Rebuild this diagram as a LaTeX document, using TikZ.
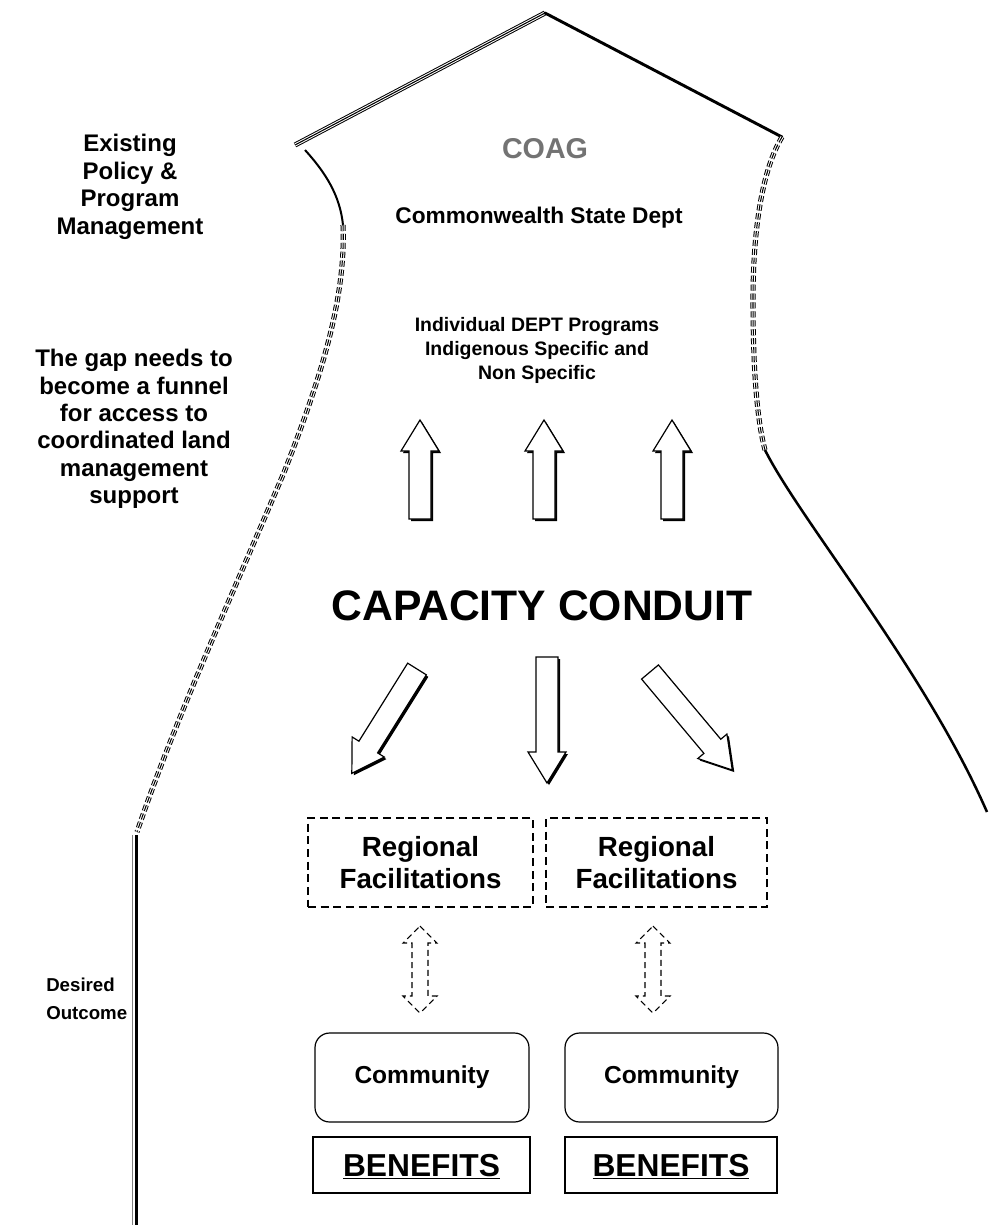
\documentclass[tikz,border=0pt]{standalone}
\usepackage{fontspec}
\setmainfont{Liberation Sans}
\usetikzlibrary{calc}
\newcommand\hollowarrow[4]{%
  \begin{scope}[shift={(#1+2,#2+2)},rotate=#3]
    \fill[black] (0,-11) -- (#4-31,-11) -- (#4-31,-19) -- (#4,0) -- (#4-31,19) -- (#4-31,11) -- (0,11) -- cycle;
  \end{scope}
  \begin{scope}[shift={(#1,#2)},rotate=#3]
    \filldraw[fill=white,draw=black,line width=0.9pt,line join=miter] (0,-11) -- (#4-31,-11) -- (#4-31,-19) -- (#4,0) -- (#4-31,19) -- (#4-31,11) -- (0,11) -- cycle;
  \end{scope}}
\begin{document}
\begin{tikzpicture}[x=0.75pt,y=-0.75pt,
  lbl/.style={align=center,inner sep=0pt,font=\fontsize{18}{20.6}\selectfont\bfseries},
  regbox/.style={draw,line width=0.9pt,dash pattern=on 6pt off 3.5pt,align=center,inner sep=0pt,minimum height=66.75pt,font=\fontsize{20.8}{24}\selectfont\bfseries},
  commbox/.style={draw,line width=0.9pt,rounded corners=11pt,minimum height=66.75pt,inner sep=0pt,font=\fontsize{18.4}{22}\selectfont\bfseries},
  benbox/.style={draw,line width=1.1pt,minimum height=42pt,inner sep=0pt,text depth=0pt,font=\fontsize{23.8}{28}\selectfont\bfseries},
  dblarrow/.style={draw,line width=0.8pt,dash pattern=on 4.5pt off 3pt,line join=miter},
  tripleline/.style={draw=black,line width=3.8pt,postaction={draw=white,line width=2.3pt},postaction={draw=black,line width=0.8pt}},
  tripledash/.style={draw=black,line width=3.8pt,dash pattern=on 4.5pt off 2.2pt,postaction={draw=white,line width=2.3pt,dash pattern=on 4.5pt off 2.2pt},postaction={draw=black,line width=0.8pt,dash pattern=on 4.5pt off 2.2pt}}]
\useasboundingbox[fill=white] (0,0) rectangle (989,1225);

% roof and walls
\draw[tripleline] (295,145) -- (545,13);
\draw[line width=2.2pt,line cap=round] (545,13) -- (782,137);
\draw[line width=1.5pt] (305,150) .. controls (325,172) and (340,195) .. (343,225);
\draw[tripledash] (343,225) .. controls (346,300) and (320,380) .. (285,470) .. controls (230,600) and (175,720) .. (137,832);
\draw[line width=2.6pt] (136.5,835) -- (136.5,1225);
\draw[line width=1.1pt,black!50] (132.5,835) -- (132.5,1225);
\draw[tripledash] (782,137) .. controls (762,170) and (753,230) .. (753,300) .. controls (753,370) and (757,420) .. (765,450);
\draw[line width=1.9pt] (765,450) .. controls (800,520) and (925,670) .. (987,812);

% texts
\node[font=\fontsize{21.5}{24}\selectfont\bfseries,text=black!55] (coag) at (545,149) {COAG};
\node[font=\fontsize{17}{20}\selectfont\bfseries] (cwsd) at (539,218) {Commonwealth State Dept};
\node[align=center,font=\fontsize{14.6}{18}\selectfont\bfseries] (indiv) at (537,350) {Individual DEPT Programs\\Indigenous Specific and\\Non Specific};
\node[font=\fontsize{32}{36}\selectfont\bfseries] (cc) at (542,606) {CAPACITY CONDUIT};
\node[lbl] (existing) at (130,187) {Existing\\Policy \&\\Program\\Management};
\node[lbl] (gap) at (134,429) {The gap needs to\\become a funnel\\for access to\\coordinated land\\management\\support};
\node[lbl,font=\fontsize{14}{20.6}\selectfont\bfseries,align=left,anchor=west] (desired) at (46,999) {Desired\\Outcome};

% boxes
\node[regbox,minimum width=168.75pt] (reg1) at (420.5,862.5) {Regional\\Facilitations};
\node[regbox,minimum width=165.75pt] (reg2) at (656.5,862.5) {Regional\\Facilitations};
\node[commbox,minimum width=160.5pt] (comm1) at (422,1077.5) {Community};
\node[commbox,minimum width=159.75pt] (comm2) at (671.5,1077.5) {Community};
\node[benbox,minimum width=162.75pt] (ben1) at (421.5,1165) {\underline{BENEFITS}};
\node[benbox,minimum width=159pt] (ben2) at (671,1165) {\underline{BENEFITS}};

% block arrows
\hollowarrow{420}{519}{90}{99}
\hollowarrow{544}{519}{90}{99}
\hollowarrow{672}{519}{90}{99}
\hollowarrow{547}{657}{-90}{126}
\hollowarrow{417}{669}{-122}{123}
\hollowarrow{650}{672}{-50}{128}

% dashed double arrows
\draw[dblarrow] (420,926) -- (437,943) -- (428,943) -- (428,996) -- (437,996) -- (420,1013) -- (403,996) -- (412,996) -- (412,943) -- (403,943) -- cycle;
\draw[dblarrow] (653,926) -- (670,943) -- (661,943) -- (661,996) -- (670,996) -- (653,1013) -- (636,996) -- (645,996) -- (645,943) -- (636,943) -- cycle;
\end{tikzpicture}
\end{document}
